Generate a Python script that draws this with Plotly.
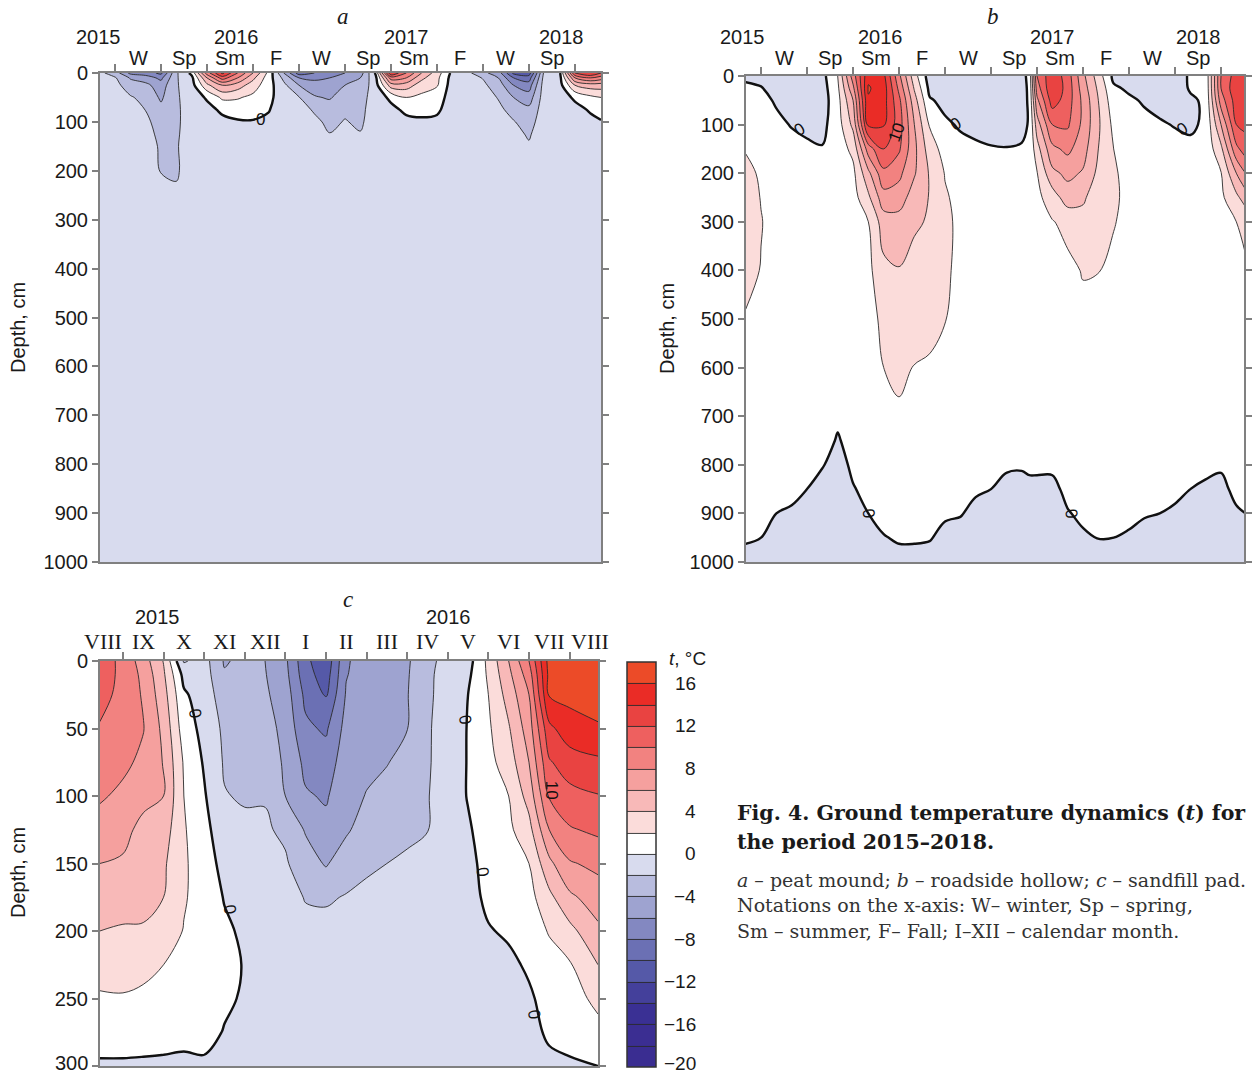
import numpy as np
import plotly.graph_objects as go

W, H = 1252, 1075

# ---------------- colour bands: 2 degC steps from -20 to 18 ----------------
band_colors = ["#3a2d91", "#3b2e92", "#3a3094", "#44409b", "#5559a8", "#6b70b4",
               "#8388c1", "#9ea3d0", "#b8bcde", "#d8dbee", "#ffffff", "#fbdcda",
               "#f8b9b8", "#f5a09e", "#f28280", "#ee605f", "#e94341", "#ea2c26", "#ec4b28"]
cbar_ticks = [-20, -16, -12, -8, -4, 0, 4, 8, 12, 16]
cbar_labels = ["\u221220", "\u221216", "\u221212", "\u22128", "\u22124", "0", "4", "8", "12", "16"]

# ---------------- panel a: peat mound (months from 1 Dec 2015) ----------------
a_months = [-1, 0, 1, 2, 3, 4, 5, 6, 7, 8, 9, 10, 11, 12, 13, 14, 15, 16, 17, 18, 19, 20,
            21, 22, 23, 24, 25, 26, 27, 28, 29, 30, 31, 31.7]
a_depths = [0, 10, 25, 50, 75, 100, 125, 150, 200, 250, 1000]
a_profiles = [
    [-1.5, -1.2, -1.0, -0.8, -0.7, -0.7, -0.7, -0.7, -0.6, -0.6, -0.5],
    [-3.0, -1.8, -1.4, -1.0, -0.9, -0.8, -0.8, -0.7, -0.7, -0.6, -0.5],
    [-6.5, -4.2, -3.0, -1.8, -1.2, -1.0, -0.9, -0.8, -0.7, -0.6, -0.5],
    [-7.0, -5.0, -3.5, -2.6, -2.05, -1.5, -1.2, -1.0, -0.9, -0.7, -0.5],
    [-8.5, -6.5, -5.0, -4.3, -3.5, -3.0, -2.6, -2.3, -2.1, -1.3, -0.6],
    [-2.3, -2.2, -2.2, -2.3, -2.4, -2.4, -2.3, -2.2, -2.3, -1.6, -0.6],
    [0.5, -0.5, -0.8, -0.9, -0.9, -0.9, -0.9, -0.8, -0.8, -0.7, -0.5],
    [9.0, 6.0, 3.5, 0.2, -0.5, -0.8, -0.9, -0.8, -0.8, -0.7, -0.5],
    [14.5, 11.0, 6.0, 2.4, 0.3, -0.4, -0.6, -0.7, -0.7, -0.7, -0.5],
    [10.0, 8.0, 5.0, 2.2, 0.8, -0.2, -0.5, -0.6, -0.7, -0.7, -0.5],
    [6.0, 4.5, 3.0, 1.5, 0.5, -0.1, -0.4, -0.6, -0.7, -0.7, -0.5],
    [1.5, 1.0, 0.8, 0.5, 0.1, -0.3, -0.5, -0.6, -0.7, -0.7, -0.5],
    [-4.0, -2.5, -1.5, -1.0, -0.8, -0.7, -0.7, -0.7, -0.7, -0.7, -0.5],
    [-9.0, -6.0, -4.0, -1.9, -1.3, -1.1, -1.0, -0.9, -0.8, -0.7, -0.5],
    [-8.0, -6.5, -5.0, -3.8, -2.2, -1.6, -1.3, -1.1, -0.9, -0.8, -0.5],
    [-7.0, -6.0, -5.0, -4.2, -3.0, -2.4, -1.95, -1.5, -1.2, -0.9, -0.5],
    [-6.0, -5.0, -4.0, -3.0, -2.3, -1.9, -1.6, -1.3, -1.1, -0.9, -0.5],
    [-5.0, -4.0, -3.5, -2.8, -2.5, -2.3, -1.9, -1.5, -1.2, -0.9, -0.5],
    [0.3, -0.5, -0.8, -1.0, -1.0, -1.0, -1.0, -0.9, -0.8, -0.7, -0.5],
    [14.0, 9.0, 5.0, 0.4, -0.5, -0.7, -0.8, -0.8, -0.8, -0.7, -0.5],
    [10.0, 8.0, 5.0, 2.0, 0.4, -0.5, -0.7, -0.7, -0.7, -0.7, -0.5],
    [6.0, 4.5, 3.0, 1.5, 0.5, -0.3, -0.6, -0.7, -0.7, -0.7, -0.5],
    [3.0, 2.5, 2.2, 1.0, 0.3, -0.4, -0.6, -0.7, -0.7, -0.7, -0.5],
    [-0.5, -0.8, -1.0, -1.0, -0.9, -0.8, -0.8, -0.7, -0.7, -0.7, -0.5],
    [-1.5, -1.2, -1.0, -1.0, -0.9, -0.9, -0.8, -0.8, -0.7, -0.7, -0.5],
    [-3.5, -2.1, -1.6, -1.2, -1.0, -0.9, -0.9, -0.8, -0.7, -0.7, -0.5],
    [-5.0, -4.0, -3.0, -2.1, -1.6, -1.3, -1.1, -1.0, -0.8, -0.7, -0.5],
    [-10.5, -8.0, -6.0, -4.0, -2.6, -1.9, -1.5, -1.2, -0.9, -0.8, -0.5],
    [-11.0, -9.0, -7.0, -5.0, -3.5, -2.7, -2.2, -1.8, -1.3, -0.9, -0.5],
    [-1.5, -1.2, -1.0, -1.0, -1.0, -1.0, -0.9, -0.9, -0.8, -0.7, -0.5],
    [-0.5, -0.7, -0.8, -0.9, -0.9, -0.9, -0.9, -0.8, -0.8, -0.7, -0.5],
    [12.0, 8.0, 4.0, 0.3, -0.6, -0.8, -0.8, -0.8, -0.8, -0.7, -0.5],
    [14.0, 10.0, 5.0, 1.5, 0.2, -0.5, -0.7, -0.7, -0.7, -0.7, -0.5],
    [12.0, 9.0, 5.0, 2.0, 0.5, -0.1, -0.5, -0.6, -0.7, -0.7, -0.5],
]

# ---------------- panel b: roadside hollow (months from 1 Dec 2015) ----------------
b_months = [-1, 0, 1, 2, 3, 4, 5, 6, 7, 8, 9, 10, 11, 12, 13, 14, 15, 16, 17, 17.5, 18,
            19, 20, 21, 22, 23, 24, 25, 26, 27, 28, 29, 30, 31, 31.6]
b_depths = [0, 25, 50, 100, 150, 200, 250, 300, 400, 500, 600, 700, 750, 800, 850, 900, 950, 1000]
b_profiles = [
    [-0.3, 0.3, 0.8, 1.3, 1.9, 2.4, 2.6, 2.8, 2.4, 1.9, 1.6, 1.2, 1.0, 0.8, 0.6, 0.4, 0.1, -0.3],
    [-0.6, 0.1, 0.5, 1.0, 1.5, 1.8, 1.95, 2.05, 1.95, 1.7, 1.5, 1.2, 1.0, 0.8, 0.6, 0.3, 0.0, -0.3],
    [-1.0, -0.7, -0.2, 0.4, 0.9, 1.3, 1.5, 1.6, 1.6, 1.5, 1.3, 1.1, 0.9, 0.7, 0.4, 0.0, -0.3, -0.5],
    [-1.2, -1.0, -0.8, -0.1, 0.6, 1.0, 1.3, 1.4, 1.4, 1.3, 1.2, 1.0, 0.8, 0.5, 0.2, -0.1, -0.4, -0.5],
    [-1.3, -1.1, -0.9, -0.4, 0.3, 0.9, 1.2, 1.3, 1.3, 1.2, 1.1, 0.9, 0.6, 0.3, 0.0, -0.3, -0.5, -0.5],
    [-0.6, -0.8, -0.9, -0.5, 0.1, 0.8, 1.2, 1.3, 1.3, 1.2, 1.1, 0.8, 0.45, 0.05, -0.3, -0.5, -0.5, -0.5],
    [2.0, 1.6, 1.3, 1.1, 1.0, 1.0, 1.0, 1.0, 1.0, 0.9, 0.8, 0.2, -0.1, -0.3, -0.5, -0.5, -0.5, -0.5],
    [9.0, 7.5, 6.0, 4.5, 2.5, 1.5, 1.2, 1.0, 1.0, 0.9, 0.8, 0.6, 0.4, 0.15, -0.05, -0.4, -0.5, -0.5],
    [15.5, 16.2, 15.8, 14.5, 9.0, 5.5, 3.6, 2.0, 1.5, 1.2, 1.0, 0.8, 0.6, 0.4, 0.2, 0.0, -0.3, -0.5],
    [14.5, 15.0, 14.8, 14.2, 12.0, 9.5, 7.2, 5.0, 3.5, 2.5, 2.0, 1.5, 1.2, 0.9, 0.6, 0.3, -0.05, -0.4],
    [8.5, 9.5, 10.5, 11.0, 10.3, 8.5, 7.0, 5.2, 3.9, 2.8, 2.3, 1.8, 1.4, 1.0, 0.7, 0.4, 0.1, -0.3],
    [2.8, 3.8, 4.8, 6.0, 6.5, 6.2, 5.0, 4.3, 3.3, 2.6, 1.95, 1.5, 1.2, 1.0, 0.7, 0.4, 0.1, -0.3],
    [-1.0, -0.5, 0.2, 1.8, 3.0, 3.8, 3.9, 3.8, 3.2, 2.5, 1.8, 1.4, 1.1, 0.9, 0.6, 0.35, 0.05, -0.3],
    [-1.2, -0.9, -0.5, 0.3, 1.2, 1.9, 2.2, 2.3, 2.2, 2.05, 1.5, 1.2, 1.0, 0.8, 0.5, 0.1, -0.2, -0.4],
    [-1.3, -1.1, -0.8, -0.2, 0.5, 1.2, 1.5, 1.7, 1.7, 1.5, 1.2, 1.0, 0.8, 0.6, 0.4, 0.05, -0.3, -0.5],
    [-1.3, -1.2, -1.0, -0.5, 0.3, 0.9, 1.2, 1.3, 1.3, 1.2, 1.0, 0.8, 0.6, 0.4, 0.1, -0.2, -0.4, -0.5],
    [-1.3, -1.2, -1.0, -0.6, 0.1, 0.7, 1.0, 1.1, 1.1, 1.0, 0.9, 0.6, 0.4, 0.2, 0.0, -0.3, -0.5, -0.5],
    [-1.2, -1.1, -1.0, -0.6, 0.05, 0.6, 0.9, 1.0, 1.0, 1.0, 0.8, 0.5, 0.3, 0.1, -0.2, -0.4, -0.5, -0.5],
    [-0.6, -0.6, -0.5, -0.3, 0.1, 0.6, 0.9, 1.0, 1.0, 0.9, 0.8, 0.5, 0.3, 0.1, -0.3, -0.5, -0.5, -0.5],
    [0.5, 0.3, 0.2, 0.1, 0.4, 0.8, 1.0, 1.0, 1.0, 0.9, 0.8, 0.5, 0.3, 0.15, -0.2, -0.5, -0.5, -0.5],
    [10.0, 9.0, 7.5, 5.0, 3.2, 1.9, 1.5, 1.2, 1.0, 0.9, 0.8, 0.6, 0.4, 0.15, -0.2, -0.5, -0.5, -0.5],
    [13.5, 13.8, 13.0, 10.0, 7.5, 5.5, 3.0, 1.9, 1.6, 1.3, 1.1, 0.9, 0.6, 0.15, -0.2, -0.4, -0.5, -0.5],
    [11.0, 11.2, 11.0, 10.3, 8.5, 6.5, 5.0, 2.5, 1.6, 1.4, 1.2, 1.0, 0.8, 0.5, 0.2, -0.05, -0.3, -0.5],
    [6.5, 7.0, 7.5, 7.5, 6.8, 5.8, 4.3, 3.3, 2.1, 1.6, 1.3, 1.0, 0.8, 0.5, 0.3, 0.15, -0.1, -0.4],
    [3.0, 3.6, 4.0, 4.3, 4.0, 3.5, 2.9, 2.4, 2.05, 1.4, 1.1, 0.9, 0.7, 0.5, 0.3, 0.1, 0.02, -0.4],
    [-0.5, 0.3, 0.8, 1.5, 2.0, 2.2, 2.25, 2.1, 1.6, 1.2, 1.0, 0.8, 0.6, 0.5, 0.3, 0.1, 0.0, -0.4],
    [-0.8, -0.3, 0.3, 0.9, 1.3, 1.5, 1.6, 1.5, 1.3, 1.1, 0.9, 0.7, 0.55, 0.4, 0.25, 0.1, -0.05, -0.4],
    [-1.0, -0.7, -0.2, 0.5, 1.0, 1.2, 1.3, 1.3, 1.2, 1.0, 0.8, 0.6, 0.5, 0.35, 0.2, 0.05, -0.2, -0.4],
    [-1.1, -0.9, -0.6, 0.2, 0.8, 1.2, 1.5, 1.6, 1.5, 1.3, 1.0, 0.8, 0.6, 0.4, 0.2, 0.0, -0.2, -0.4],
    [-1.1, -1.0, -0.8, -0.1, 0.6, 1.1, 1.4, 1.5, 1.5, 1.3, 1.1, 0.9, 0.6, 0.4, 0.15, -0.1, -0.3, -0.4],
    [0.3, 0.2, -0.3, -0.3, 0.4, 1.0, 1.3, 1.5, 1.6, 1.4, 1.2, 1.0, 0.7, 0.3, 0.0, -0.2, -0.4, -0.5],
    [0.5, 0.4, 0.3, 0.3, 0.6, 1.0, 1.3, 1.5, 1.6, 1.5, 1.3, 0.6, 0.35, 0.15, -0.1, -0.3, -0.5, -0.5],
    [10.0, 10.0, 9.0, 6.0, 3.5, 1.9, 1.6, 1.5, 1.5, 1.4, 1.3, 0.6, 0.35, 0.1, -0.2, -0.4, -0.5, -0.5],
    [13.0, 13.5, 13.0, 12.0, 9.5, 6.0, 3.5, 2.0, 1.6, 1.4, 1.3, 1.1, 0.8, 0.5, 0.2, -0.1, -0.4, -0.5],
    [13.0, 13.5, 13.5, 12.5, 11.0, 8.0, 5.0, 2.4, 1.8, 1.4, 1.3, 1.1, 0.8, 0.5, 0.3, 0.0, -0.3, -0.5],
]

# ---------------- panel c: sandfill pad (months from 1 Sep 2015) ----------------
c_months = [-0.57, 0, 0.5, 1, 1.5, 2, 2.5, 3, 3.5, 4, 4.5, 5, 5.5, 6, 6.5, 7, 7.5, 8,
            8.5, 9, 9.5, 10, 10.5, 11, 11.7]
c_depths = [0, 10, 25, 50, 75, 100, 125, 150, 175, 200, 225, 250, 275, 300]
c_profiles = [
    [11.0, 11.0, 10.8, 9.8, 9.0, 8.3, 7.0, 6.0, 5.0, 4.0, 3.0, 1.7, 1.0, -0.3],
    [9.5, 9.5, 9.3, 9.0, 8.5, 7.5, 6.5, 5.8, 4.8, 3.8, 3.0, 1.8, 1.0, -0.3],
    [7.0, 7.5, 7.8, 8.1, 7.5, 6.5, 5.5, 4.8, 4.3, 3.9, 2.7, 1.5, 0.8, -0.3],
    [3.9, 4.3, 4.8, 5.5, 5.9, 6.0, 5.0, 4.3, 4.0, 3.2, 2.0, 1.2, 0.6, -0.3],
    [-2.2, -0.6, 0.3, 1.0, 1.8, 2.0, 2.2, 2.3, 2.2, 1.9, 1.2, 0.8, 0.4, -0.3],
    [-1.2, -1.1, -1.0, -0.6, -0.2, 0.2, 0.6, 0.9, 1.1, 1.2, 1.2, 1.0, 0.6, -0.3],
    [-4.2, -3.8, -3.0, -2.4, -2.2, -1.9, -1.2, -0.6, -0.1, 0.3, 0.5, 0.3, -0.1, -0.5],
    [-3.5, -3.3, -3.0, -2.6, -2.4, -2.2, -1.6, -1.1, -0.7, -0.3, -0.1, -0.2, -0.4, -0.5],
    [-4.0, -3.9, -3.7, -3.2, -2.8, -2.1, -1.8, -1.4, -1.0, -0.7, -0.5, -0.5, -0.5, -0.5],
    [-5.6, -5.4, -5.0, -4.6, -4.3, -4.0, -2.3, -1.8, -1.3, -0.9, -0.7, -0.6, -0.5, -0.5],
    [-9.5, -9.2, -8.5, -7.6, -6.5, -5.8, -4.2, -3.0, -2.1, -1.5, -1.0, -0.7, -0.5, -0.5],
    [-11.5, -11.0, -10.2, -8.3, -7.0, -6.2, -5.5, -4.2, -2.2, -1.5, -1.0, -0.7, -0.5, -0.5],
    [-6.2, -6.1, -5.8, -5.3, -5.0, -4.8, -4.3, -2.8, -1.9, -1.5, -1.1, -0.8, -0.5, -0.5],
    [-5.2, -5.1, -5.0, -4.8, -4.5, -3.9, -3.0, -2.3, -1.6, -1.2, -0.9, -0.7, -0.5, -0.5],
    [-4.8, -4.7, -4.6, -4.3, -4.1, -3.3, -2.6, -2.0, -1.5, -1.1, -0.8, -0.6, -0.5, -0.5],
    [-4.3, -4.2, -4.1, -4.05, -3.3, -2.9, -2.4, -1.7, -1.3, -1.0, -0.7, -0.6, -0.5, -0.5],
    [-2.4, -2.3, -2.3, -2.2, -2.2, -2.1, -2.05, -1.5, -1.1, -0.8, -0.6, -0.5, -0.5, -0.5],
    [-1.5, -1.4, -1.3, -1.2, -1.1, -1.0, -0.9, -0.8, -0.7, -0.6, -0.6, -0.5, -0.5, -0.5],
    [-0.8, -0.4, 0.0, 0.1, 0.1, 0.1, -0.2, -0.4, -0.5, -0.6, -0.6, -0.5, -0.5, -0.5],
    [2.5, 2.3, 2.0, 1.7, 1.4, 1.1, 0.8, 0.5, 0.3, -0.1, -0.4, -0.5, -0.5, -0.5],
    [6.0, 5.5, 4.8, 3.8, 3.0, 2.0, 1.6, 1.2, 0.8, 0.2, -0.3, -0.4, -0.5, -0.5],
    [10.0, 9.0, 8.0, 7.0, 6.0, 4.8, 3.3, 2.0, 1.3, 0.6, 0.2, -0.2, -0.4, -0.5],
    [16.8, 16.6, 16.2, 13.5, 11.8, 10.2, 8.0, 5.5, 3.5, 2.2, 1.0, 0.5, 0.2, -0.3],
    [17.0, 16.9, 16.5, 15.2, 13.0, 11.4, 9.8, 7.8, 5.6, 3.4, 1.8, 1.0, 0.5, -0.2],
    [17.2, 17.1, 16.8, 15.8, 13.6, 11.9, 10.4, 8.5, 7.0, 5.6, 4.0, 2.6, 1.3, 0.0],
]

# ---------------- axis labels ----------------
season_ticks = [0, 3, 6, 9, 12, 15, 18, 21, 24, 27, 30]
season_names = ["W", "Sp", "Sm", "F", "W", "Sp", "Sm", "F", "W", "Sp"]
season_centres = [1.5, 4.5, 7.5, 10.5, 13.5, 16.5, 19.5, 22.5, 25.5, 28.5]
year_names = ["2015", "2016", "2017", "2018"]
a_year_pos = [-1.1, 7.9, 19.0, 29.1]
b_year_pos = [-1.2, 7.8, 19.0, 28.5]
c_month_ticks = [0, 1, 2, 3, 4, 5, 6, 7, 8, 9, 10, 11]
c_month_names = ["VIII", "IX", "X", "XI", "XII", "I", "II", "III", "IV", "V", "VI", "VII", "VIII"]
c_month_centres = [-0.5, 0.5, 1.5, 2.5, 3.5, 4.5, 5.5, 6.5, 7.5, 8.5, 9.5, 10.5, 11.5]
c_year_names = ["2015", "2016"]
c_year_pos = [0.84, 8.03]
depth_ticks_ab = [0, 100, 200, 300, 400, 500, 600, 700, 800, 900, 1000]
depth_ticks_c = [0, 50, 100, 150, 200, 250, 300]

# contour-label positions (month, depth, text, angle)
a_clabels = [(9.46, 96, "0", 0)]
b_clabels = [(2.54, 111, "0", -30), (12.66, 99, "0", -30), (27.46, 111, "0", -30),
             (6.98, 899, "0", 80), (20.2, 901, "0", 80), (8.87, 117, "10", -70)]
c_clabels = [(1.77, 39, "0", 80), (2.63, 184, "0", 80), (8.43, 43, "0", 80),
             (8.85, 156, "0", 80), (10.12, 262, "0", 80), (10.54, 96, "10", 90)]

# ---------------- figure ----------------
SANS = "Liberation Sans, Arial, sans-serif"
SERIF = "Liberation Serif, Times New Roman, serif"
WSERIF = "DejaVu Serif, serif"
AXC = "#808080"

cscale = [[k / 18, c] for k, c in enumerate(band_colors)]

def px(x):
    return x / W

def py(y):
    return 1 - y / H

# panel geometry (pixels) and axis ranges
A_X, A_Y, A_R = (100, 601), (73, 562), (-0.98, 31.7)
B_X, B_Y, B_R = (746, 1244), (76, 562), (-0.98, 31.5)
C_X, C_Y, C_R = (100, 598), (661, 1066), (-0.565, 11.7)

def data_to_paper_x(m, box, rng):
    return px(box[0] + (m - rng[0]) / (rng[1] - rng[0]) * (box[1] - box[0]))

fig = go.Figure()

def add_panel(months, depths, profiles, xa, ya, colorbar=None):
    z = np.array(profiles).T
    kw = dict(x=months, y=depths, z=z, xaxis=xa, yaxis=ya, hoverinfo="skip")
    fig.add_trace(go.Contour(
        **kw, colorscale=cscale, zmin=-20, zmax=18, zauto=False, autocontour=False,
        contours=dict(start=-18, end=16, size=2, coloring="fill", showlines=True),
        line=dict(color="#2a2a2a", width=0.9, smoothing=1.0),
        showscale=colorbar is not None, colorbar=colorbar if colorbar else {}))
    fig.add_trace(go.Contour(
        **kw, autocontour=False, showscale=False,
        contours=dict(start=0, end=0, size=1, coloring="none", showlines=True),
        line=dict(color="#111111", width=2.4, smoothing=1.0)))

cb = dict(x=px(627), xanchor="left", y=py(1067), yanchor="bottom",
          len=405 / H, lenmode="fraction", thickness=29, thicknessmode="pixels",
          xpad=0, ypad=0, outlinecolor="#333333", outlinewidth=1.5,
          showticklabels=False, ticks="")

add_panel(a_months, a_depths, a_profiles, "x", "y")
add_panel(b_months, b_depths, b_profiles, "x2", "y2")
add_panel(c_months, c_depths, c_profiles, "x3", "y3", colorbar=cb)

def xaxis_cfg(box, rng, ticks, anchor):
    return dict(domain=[px(box[0]), px(box[1])], range=list(rng), side="top", tickvals=ticks,
                showticklabels=False, anchor=anchor,
                ticks="outside", ticklen=7, tickwidth=1.5, tickcolor=AXC,
                showline=True, linecolor=AXC, linewidth=2, mirror=True,
                showgrid=False, zeroline=False)

def yaxis_cfg(box, rng, ticks, anchor, texts=None):
    d = dict(domain=[py(box[1]), py(box[0])], range=rng, tickvals=ticks, anchor=anchor,
             ticks="outside", ticklen=6, tickwidth=1.5, tickcolor=AXC,
             showline=True, linecolor=AXC, linewidth=2, mirror="allticks",
             showgrid=False, zeroline=False, automargin=False, ticklabeloverflow="allow",
             tickfont=dict(family=SANS, size=20, color="#1a1a1a"))
    if texts is not None:
        d["ticktext"] = texts
    return d

# the deepest label of panel c sits on the page edge: drawn separately, nudged up
c_tick_text = [str(v) for v in depth_ticks_c[:-1]] + [""]

fig.update_layout(
    width=W, height=H, margin=dict(l=0, r=0, t=0, b=0, pad=0, autoexpand=False),
    paper_bgcolor="white", plot_bgcolor="white", showlegend=False,
    xaxis=xaxis_cfg(A_X, A_R, season_ticks, "y"),
    yaxis=yaxis_cfg(A_Y, [1000, 0], depth_ticks_ab, "x"),
    xaxis2=xaxis_cfg(B_X, B_R, season_ticks, "y2"),
    yaxis2=yaxis_cfg(B_Y, [1000, 0], depth_ticks_ab, "x2"),
    xaxis3=xaxis_cfg(C_X, C_R, c_month_ticks, "y3"),
    yaxis3=yaxis_cfg(C_Y, [300, 0], depth_ticks_c, "x3", c_tick_text),
)

ann = []
def text(x, y, t, size=20, family=SANS, xref="paper", yref="paper", xanchor="center",
         yanchor="middle", angle=0, color="#1a1a1a"):
    ann.append(dict(x=x, y=y, text=t, xref=xref, yref=yref, showarrow=False,
                    xanchor=xanchor, yanchor=yanchor, textangle=angle, borderpad=0,
                    font=dict(family=family, size=size, color=color)))

text(px(89), py(1063), str(depth_ticks_c[-1]), xanchor="right")

# panel titles
text(px(343), py(16), "<i>a</i>", size=23, family=SERIF)
text(px(993), py(16), "<i>b</i>", size=23, family=SERIF)
text(px(348), py(599), "<i>c</i>", size=23, family=SERIF)

# season / year labels
for box, rng, ypos in ((A_X, A_R, a_year_pos), (B_X, B_R, b_year_pos)):
    for name, pos in zip(season_names, season_centres):
        text(data_to_paper_x(pos, box, rng), py(58), name)
    for name, pos in zip(year_names, ypos):
        text(data_to_paper_x(pos, box, rng), py(37), name)
for name, pos in zip(c_month_names, c_month_centres):
    text(data_to_paper_x(pos, C_X, C_R), py(641), name, family=SERIF, size=22)
for name, pos in zip(c_year_names, c_year_pos):
    text(data_to_paper_x(pos, C_X, C_R), py(617), name)

# y titles
text(px(18), py(328), "Depth, cm", angle=-90)
text(px(667), py(328), "Depth, cm", angle=-90)
text(px(18), py(873), "Depth, cm", angle=-90)

# contour labels
for xr, yr, labs in (("x", "y", a_clabels), ("x2", "y2", b_clabels), ("x3", "y3", c_clabels)):
    for m, d, t, ang in labs:
        text(m, d, t, xref=xr, yref=yr, size=17, angle=ang, color="#111111")

# colour bar labels
cb_bottom, cb_height = 1067, 405
for v, lab in zip(cbar_ticks, cbar_labels):
    ypix = min(cb_bottom - (v + 20) / 38 * cb_height, 1063)
    text(px(697), py(ypix), lab, xanchor="right", size=19)
text(px(687), py(658), "<i>t</i>, °C", size=19)

# caption
text(px(736), py(813), "<b>Fig. 4. Ground temperature dynamics (</b><i><b>t</b></i><b>) for</b>",
     family=WSERIF, size=20.5, xanchor="left")
text(px(736), py(842), "<b>the period 2015–2018.</b>", family=WSERIF, size=20.5, xanchor="left")
text(px(736), py(880), "<i>a</i> – peat mound; <i>b</i> – roadside hollow; <i>c</i> – sandfill pad.",
     family=WSERIF, size=19, xanchor="left", color="#333333")
text(px(736), py(905), "Notations on the x-axis: W– winter, Sp – spring,",
     family=WSERIF, size=19, xanchor="left", color="#333333")
text(px(736), py(931), "Sm – summer, F– Fall; I–XII – calendar month.",
     family=WSERIF, size=19, xanchor="left", color="#333333")

fig.update_layout(annotations=ann)
fig.write_html("out.html", config={"displayModeBar": False},
               post_script="document.body.style.margin='0';document.body.style.overflow='hidden';")
